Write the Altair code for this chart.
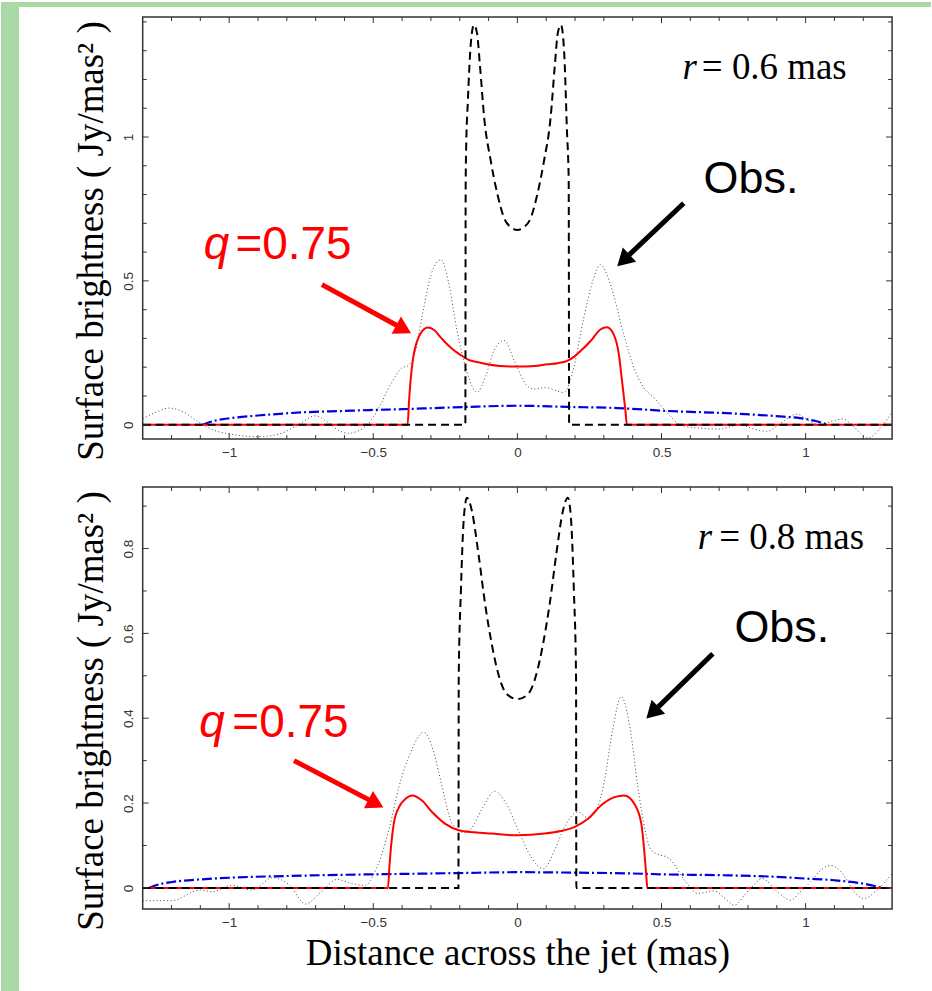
import math
import altair as alt
import pandas as pd

# ---------------- data ----------------
X_MIN, X_MAX = -1.3, 1.3
X_LABELS = [-1, -0.5, 0, 0.5, 1]
X_TICKS = [round(-1.2 + 0.1 * i, 1) for i in range(25)]

# panel 1 : r = 0.6 mas
obs06_x = [-1.30, -1.25, -1.21, -1.16, -1.10, -1.05, -0.98, -0.90, -0.82, -0.76, -0.70, -0.66, -0.62,
           -0.585, -0.55, -0.52, -0.48, -0.44, -0.40, -0.38, -0.355, -0.33, -0.30, -0.265, -0.24, -0.21,
           -0.18, -0.155, -0.14, -0.11, -0.08, -0.046, -0.01, 0.03, 0.058, 0.098, 0.13, 0.161, 0.196,
           0.23, 0.265, 0.288, 0.323, 0.369, 0.404, 0.438, 0.473, 0.519, 0.565, 0.63, 0.703, 0.773,
           0.82, 0.865, 0.92, 0.969, 1.01, 1.05, 1.09, 1.13, 1.17, 1.217, 1.26, 1.30]
obs06_y = [0.020, 0.045, 0.058, 0.045, 0.005, -0.020, -0.035, -0.042, -0.030, 0.000, 0.031, 0.010, -0.020,
           -0.030, -0.020, 0.000, 0.060, 0.140, 0.198, 0.205, 0.250, 0.380, 0.520, 0.574, 0.500, 0.330,
           0.200, 0.130, 0.112, 0.170, 0.260, 0.293, 0.220, 0.140, 0.124, 0.129, 0.120, 0.112, 0.200,
           0.370, 0.510, 0.557, 0.487, 0.314, 0.199, 0.129, 0.095, 0.043, 0.000, -0.012, -0.015, 0.000,
           -0.015, -0.023, 0.010, 0.037, 0.015, 0.000, 0.012, 0.020, -0.010, -0.046, -0.010, 0.043]

mod06_x = [-1.30, -0.1805, -0.1795, -0.178, -0.172, -0.162, -0.151, -0.140, -0.130, -0.115, -0.092,
           -0.069, -0.046, -0.020, 0.000, 0.020, 0.046, 0.069, 0.092, 0.115, 0.130, 0.140, 0.151,
           0.162, 0.172, 0.178, 0.1795, 0.1805, 1.30]
mod06_y = [0.0, 0.0, 0.82, 0.95, 1.12, 1.32, 1.39, 1.36, 1.25, 1.065, 0.915, 0.80, 0.718, 0.685, 0.677,
           0.685, 0.718, 0.80, 0.915, 1.065, 1.25, 1.36, 1.39, 1.30, 1.02, 0.85, 0.0, 0.0, 0.0]

q06_x = [-1.30, -0.381, -0.376, -0.370, -0.362, -0.350, -0.333, -0.310, -0.290, -0.263, -0.240, -0.217,
         -0.190, -0.173, -0.140, -0.104, -0.060, 0.000, 0.060, 0.104, 0.140, 0.173, 0.196, 0.219, 0.254,
         0.288, 0.311, 0.334, 0.352, 0.363, 0.375, 0.380, 1.30]
q06_y = [0.0, 0.0, 0.08, 0.16, 0.23, 0.285, 0.322, 0.338, 0.330, 0.300, 0.276, 0.256,
         0.238, 0.227, 0.218, 0.210, 0.204, 0.202, 0.204, 0.210, 0.214, 0.222, 0.236, 0.256, 0.291,
         0.331, 0.339, 0.314, 0.245, 0.152, 0.048, 0.0, 0.0]

b06_x = [-1.093, -1.05, -0.977, -0.90, -0.747, -0.60, -0.516, -0.40, -0.286, -0.173, 0.0, 0.173, 0.346,
         0.519, 0.75, 0.923, 0.98, 1.038, 1.078]
b06_y = [0.0, 0.014, 0.025, 0.032, 0.043, 0.048, 0.051, 0.054, 0.058, 0.062, 0.066, 0.062, 0.058,
         0.048, 0.039, 0.028, 0.023, 0.012, 0.0]

# panel 2 : r = 0.8 mas
obs08_x = [-1.30, -1.20, -1.10, -1.06, -0.99, -0.92, -0.85, -0.79, -0.735, -0.68, -0.625, -0.573, -0.527,
           -0.50, -0.446, -0.411, -0.37, -0.325, -0.29, -0.261, -0.226, -0.183, -0.16, -0.12, -0.078,
           -0.04, 0.003, 0.05, 0.09, 0.13, 0.164, 0.21, 0.245, 0.279, 0.30, 0.33, 0.36, 0.39, 0.418,
           0.445, 0.464, 0.533, 0.58, 0.626, 0.684, 0.72, 0.753, 0.79, 0.811, 0.85, 0.902, 0.948, 0.98,
           1.017, 1.05, 1.087, 1.12, 1.144, 1.17, 1.202, 1.248, 1.30]
obs08_y = [-0.030, -0.030, -0.005, -0.009, 0.006, -0.005, 0.024, 0.006, -0.038, -0.009, 0.020, 0.010, 0.006,
           0.030, 0.136, 0.238, 0.320, 0.367, 0.320, 0.238, 0.151, 0.130, 0.140, 0.190, 0.228,
           0.200, 0.136, 0.070, 0.045, 0.090, 0.144, 0.179, 0.165, 0.191, 0.245, 0.370, 0.451, 0.380, 0.238,
           0.130, 0.089, 0.065, 0.018, -0.013, -0.007, -0.025, -0.041, -0.015, 0.000, 0.022, -0.009, -0.029, -0.010,
           0.014, 0.040, 0.053, 0.040, 0.018, -0.010, -0.025, -0.005, 0.034]

mod08_x = [-1.30, -0.2045, -0.2035, -0.196, -0.186, -0.175, -0.158, -0.135, -0.112, -0.089, -0.066,
           -0.037, 0.000, 0.037, 0.066, 0.089, 0.112, 0.135, 0.158, 0.175, 0.186, 0.196, 0.2035,
           0.2045, 1.30]
mod08_y = [0.0, 0.0, 0.50, 0.70, 0.87, 0.92, 0.889, 0.787, 0.669, 0.575, 0.504,
           0.457, 0.445, 0.457, 0.504, 0.575, 0.669, 0.787, 0.889, 0.92, 0.87, 0.70, 0.50,
           0.0, 0.0]

q08_x = [-1.30, -0.449, -0.444, -0.438, -0.429, -0.411, -0.388, -0.365, -0.331, -0.296, -0.250, -0.203,
         -0.150, -0.090, 0.000, 0.095, 0.150, 0.199, 0.245, 0.291, 0.337, 0.371, 0.406, 0.430, 0.441,
         0.447, 0.451, 1.30]
q08_y = [0.0, 0.0, 0.05, 0.10, 0.151, 0.190, 0.210, 0.218, 0.206, 0.179, 0.151, 0.136,
         0.131, 0.128, 0.124, 0.128, 0.134, 0.144, 0.163, 0.195, 0.214, 0.218, 0.198, 0.151, 0.081,
         0.030, 0.0, 0.0]

b08_x = [-1.278, -1.24, -1.197, -1.10, -1.0, -0.8, -0.6, -0.5, -0.3, -0.2, 0.0, 0.2, 0.4, 0.5, 0.7, 0.9,
         1.0, 1.1, 1.2, 1.267]
b08_y = [0.0, 0.009, 0.014, 0.020, 0.024, 0.028, 0.031, 0.032, 0.034, 0.035, 0.037, 0.036, 0.034, 0.032,
         0.030, 0.026, 0.022, 0.018, 0.010, 0.0]

# annotations (data units)
r_label = ["r", "= 0.6 mas", "= 0.8 mas"]
q_label = ["q", "=0.75"]
obs_label = "Obs."

# ---------------- layout / style ----------------
W, H = 751, 423
PAD_LEFT, PAD_TOP = 142, 15
PAGE_W, PAGE_H = 932, 991
STRIP = "#a9daa6"
SERIF = "Liberation Serif"
SANS = "Liberation Sans"
YTITLE = "Surface brightness ( Jy/mas\u00b2 )"
XTITLE = "Distance across the jet (mas)"


def xy(xs, ys):
    return pd.DataFrame({"x": xs, "y": ys})


def panel(cfg):
    ydom = cfg["ydom"]
    xsc = alt.Scale(domain=[X_MIN, X_MAX], nice=False, zero=False)
    ysc = alt.Scale(domain=ydom, nice=False, zero=False)
    xax_kw = dict(values=X_LABELS, format="~g", ticks=False, domain=False, grid=False,
                  labelFont=SANS, labelFontSize=13.5, labelColor="#333", labelPadding=6)
    if cfg["xtitle"]:
        xax_kw.update(title=XTITLE, titleFont=SERIF, titleFontSize=37, titleFontWeight="normal",
                      titleColor="black", titlePadding=7)
    else:
        xax_kw.update(title=None)
    yax = alt.Axis(values=cfg["ylabels"], format="~g", ticks=False, domain=False, grid=False,
                   labelFont=SANS, labelFontSize=13.5, labelColor="#333", labelPadding=7,
                   labelAngle=270, labelAlign="center", labelBaseline="bottom",
                   title=YTITLE, titleFont=SERIF, titleFontSize=37, titleFontWeight="normal",
                   titleColor="black", titlePadding=11, titleY=224)
    X = alt.X("x:Q", scale=xsc, axis=alt.Axis(**xax_kw))
    Y = alt.Y("y:Q", scale=ysc, axis=yax)

    layers = []
    if cfg["strips"]:
        one = pd.DataFrame({"k": [0]})
        layers.append(alt.Chart(one).mark_rect(color=STRIP).encode(
            x=alt.value(-PAD_LEFT), x2=alt.value(-PAD_LEFT + 18),
            y=alt.value(-PAD_TOP), y2=alt.value(PAGE_H - PAD_TOP)))
        layers.append(alt.Chart(one).mark_rect(color=STRIP).encode(
            x=alt.value(-PAD_LEFT), x2=alt.value(PAGE_W - PAD_LEFT),
            y=alt.value(-PAD_TOP), y2=alt.value(-PAD_TOP + 5)))

    layers.append(alt.Chart(xy(cfg["obs_x"], cfg["obs_y"])).mark_line(
        color="#444", strokeWidth=1, strokeDash=[1, 2.5], interpolate="monotone").encode(x=X, y=Y))
    layers.append(alt.Chart(xy(cfg["b_x"], cfg["b_y"])).mark_line(
        color="#0000e0", strokeWidth=2.2, strokeDash=[10, 3, 2, 3], interpolate="monotone").encode(x=X, y=Y))
    layers.append(alt.Chart(xy(cfg["q_x"], cfg["q_y"])).mark_line(
        color="#ff0000", strokeWidth=2, interpolate="monotone").encode(x=X, y=Y))
    layers.append(alt.Chart(xy(cfg["m_x"], cfg["m_y"])).mark_line(
        color="black", strokeWidth=2, strokeDash=[8, 5], interpolate="monotone").encode(x=X, y=Y))

    # inward ticks on all four sides
    xmaj = [t for t in X_TICKS if t in X_LABELS]
    xmin = [t for t in X_TICKS if t not in X_LABELS]
    ymaj = [t for t in cfg["yticks"] if t in cfg["ylabels"]]
    ymin = [t for t in cfg["yticks"] if t not in cfg["ylabels"]]
    for vals, ln in ((xmaj, 6), (xmin, 4)):
        d = pd.DataFrame({"x": vals})
        layers.append(alt.Chart(d).mark_rule(color="#333", strokeWidth=1).encode(
            x=X, y=alt.value(H), y2=alt.value(H - ln)))
        layers.append(alt.Chart(d).mark_rule(color="#333", strokeWidth=1).encode(
            x=X, y=alt.value(0), y2=alt.value(ln)))
    for vals, ln in ((ymaj, 6), (ymin, 4)):
        d = pd.DataFrame({"y": vals})
        layers.append(alt.Chart(d).mark_rule(color="#333", strokeWidth=1).encode(
            y=Y, x=alt.value(0), x2=alt.value(ln)))
        layers.append(alt.Chart(d).mark_rule(color="#333", strokeWidth=1).encode(
            y=Y, x=alt.value(W), x2=alt.value(W - ln)))

    # text annotations
    def txt(x, y, s, font, size, color, style="normal"):
        d = pd.DataFrame({"x": [x], "y": [y], "t": [s]})
        return alt.Chart(d).mark_text(align="left", baseline="alphabetic", font=font, fontSize=size,
                                      color=color, fontStyle=style).encode(x=X, y=Y, text="t:N")

    rx, reqx, ry = cfg["r_pos"]
    layers.append(txt(rx, ry, r_label[0], SERIF, 37, "black", "italic"))
    layers.append(txt(reqx, ry, cfg["r_text"], SERIF, 37, "black"))
    qx, qeqx, qy = cfg["q_pos"]
    layers.append(txt(qx, qy, q_label[0], SANS, 46, "#ff0000", "italic"))
    layers.append(txt(qeqx, qy, q_label[1], SANS, 46, "#ff0000"))
    ox, oy = cfg["obs_pos"]
    layers.append(txt(ox, oy, obs_label, SANS, 45, "black"))

    # arrows
    pxx = W / (X_MAX - X_MIN)
    pxy = H / (ydom[1] - ydom[0])
    for (sx, sy, tx, ty), col in cfg["arrows"]:
        dx = (tx - sx) * pxx
        dy = -(ty - sy) * pxy
        L = math.hypot(dx, dy)
        ux, uy = dx / L, dy / L
        ex, ey = tx - 15 * ux / pxx, ty + 15 * uy / pxy
        cx, cy = tx - 11 * ux / pxx, ty + 11 * uy / pxy
        ang = math.degrees(math.atan2(dy, dx)) % 360
        d = pd.DataFrame({"x": [sx], "y": [sy], "x2": [ex], "y2": [ey]})
        layers.append(alt.Chart(d).mark_rule(color=col, strokeWidth=5, strokeCap="butt").encode(
            x=X, y=Y, x2="x2:Q", y2="y2:Q"))
        h = pd.DataFrame({"x": [cx], "y": [cy], "a": [ang]})
        layers.append(alt.Chart(h).mark_point(shape="triangle-right", filled=True, size=380,
                                              color=col, opacity=1, strokeWidth=0).encode(
            x=X, y=Y, angle=alt.Angle("a:Q", scale=None)))

    return alt.layer(*layers).properties(width=W, height=H)


top_cfg = dict(
    ydom=[-0.05, 1.417], ylabels=[0, 0.5, 1], yticks=[round(0.1 * i, 1) for i in range(15)],
    xtitle=False, strips=True,
    obs_x=obs06_x, obs_y=obs06_y, m_x=mod06_x, m_y=mod06_y, q_x=q06_x, q_y=q06_y, b_x=b06_x, b_y=b06_y,
    r_pos=(0.573, 0.640, 1.202), r_text=r_label[1],
    q_pos=(-1.088, -0.978, 0.577), obs_pos=(0.646, 0.804),
    arrows=[((-0.678, 0.487, -0.361, 0.314), "#ff0000"), ((0.577, 0.770, 0.340, 0.545), "black")],
)
bot_cfg = dict(
    ydom=[-0.05, 0.945], ylabels=[0, 0.2, 0.4, 0.6, 0.8], yticks=[round(0.1 * i, 1) for i in range(10)],
    xtitle=True, strips=False,
    obs_x=obs08_x, obs_y=obs08_y, m_x=mod08_x, m_y=mod08_y, q_x=q08_x, q_y=q08_y, b_x=b08_x, b_y=b08_y,
    r_pos=(0.626, 0.700, 0.799), r_text=r_label[2],
    q_pos=(-1.104, -0.989, 0.355), obs_pos=(0.753, 0.579),
    arrows=[((-0.775, 0.300, -0.457, 0.187), "#ff0000"), ((0.678, 0.552, 0.441, 0.395), "black")],
)

chart = alt.vconcat(panel(top_cfg), panel(bot_cfg), spacing=48, bounds="flush").properties(
    padding=0, background="white"
).configure_view(stroke="#333", strokeWidth=1.5)

chart.save("out.html", embed_options={"renderer": "svg", "actions": False})
